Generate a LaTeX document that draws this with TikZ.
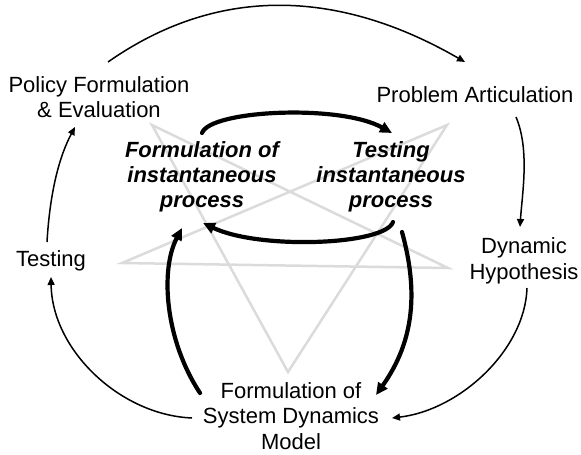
\documentclass[tikz,border=0pt]{standalone}
\usepackage{fontspec}
\setmainfont{Liberation Sans}
\usetikzlibrary{arrows.meta,calc}
\begin{document}
\begin{tikzpicture}[x=1pt,y=-1pt,
  lbl/.style={align=center,inner sep=0pt,font=\fontsize{22}{25.5}\selectfont},
  blbl/.style={align=center,inner sep=0pt,font=\fontsize{22}{25}\selectfont\bfseries\itshape},
  thin/.style={line width=1.5pt,-{Triangle[length=8pt,width=7pt]}},
  thick/.style={line width=4.2pt,line cap=round,-{Triangle[length=12pt,width=11pt]}},
  star/.style={draw=black!14,line width=2.5pt,line join=miter}]
\useasboundingbox (0,0) rectangle (581,455);
% pentagram
\draw[star] (152,125) -- (448,268) -- (122,263) -- (447,125) -- (288,372) -- cycle;
% nodes
\node[lbl] (pol) at (99,97) {Policy Formulation\\\& Evaluation};
\node[lbl] (prob) at (475,95) {Problem Articulation};
\node[lbl] (dyn) at (524,261) {Dynamic\\Hypothesis};
\node[lbl] (test) at (51,261) {Testing};
\node[lbl] (sdm) at (291,416) {Formulation of\\System Dynamics\\Model};
\node[blbl] (fi) at (202,177) {Formulation of\\instantaneous\\process};
\node[blbl] (ti) at (391,177) {Testing\\instantaneous\\process};
% thin outer cycle
\draw[thin] ($(pol)+(9,-35)$) .. controls (215,-13) and (335,-13) .. ($(prob)+(-10,-33)$);
\draw[thin] ($(prob)+(41,22)$) .. controls (530,150) and (522,195) .. ($(dyn)+(-4,-34)$);
\draw[thin] ($(dyn)+(3,27)$) .. controls (525,350) and (460,410) .. ($(sdm)+(101,2)$);
\draw[thin] ($(sdm)+(-99,2)$) .. controls (120,415) and (52,350) .. ($(test)+(0,16)$);
\draw[thin] ($(test)+(-4,-19)$) .. controls (50,190) and (60,155) .. ($(pol)+(-24,30)$);
% thick inner arrows
\draw[thick] ($(fi)+(0,-44)$) .. controls (210,110) and (340,104) .. ($(ti)+(1,-44)$);
\draw[thick] ($(ti)+(2,45)$) .. controls (385,245) and (260,250) .. ($(fi)+(1,46)$);
\draw[thick] ($(ti)+(11,55)$) .. controls (418,290) and (415,340) .. ($(sdm)+(85,-21)$);
\draw[thick] ($(sdm)+(-91,-23)$) .. controls (165,340) and (160,270) .. ($(fi)+(-20,51)$);
\end{tikzpicture}
\end{document}
